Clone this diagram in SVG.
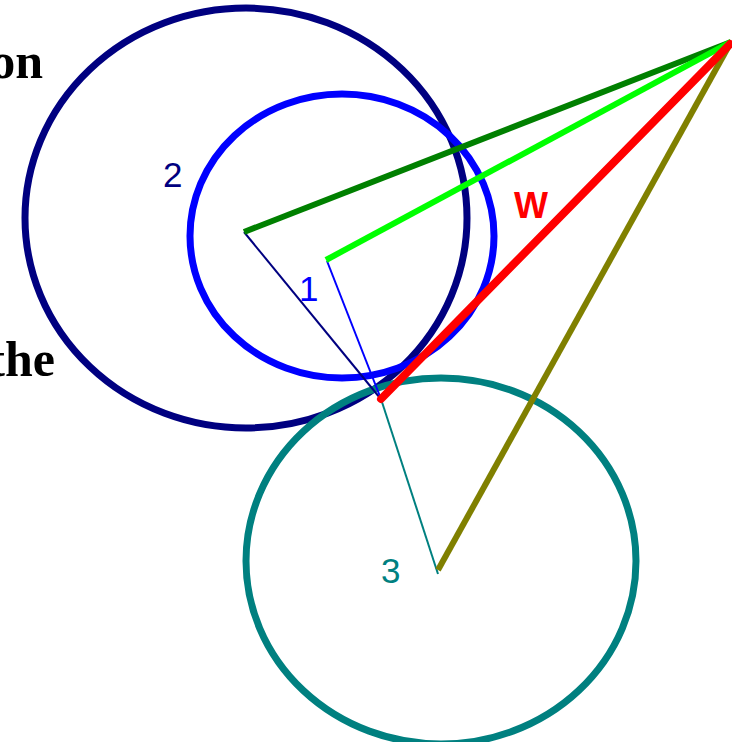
<svg xmlns="http://www.w3.org/2000/svg" width="732" height="742" viewBox="0 0 732 742">
  <style>
    .ring { fill: none; stroke-width: 7; }
    .thick { stroke-width: 6; stroke-linecap: butt; }
    .thin { stroke-width: 2; }
    .num { font-family: "Liberation Sans", Arial, sans-serif; font-size: 35px; }
    .word { font-family: "Liberation Serif", "Times New Roman", serif; font-weight: bold; font-size: 50px; fill: #000; }
  </style>
  <rect width="732" height="742" fill="#fff"/>
  <g id="text-fragments">
    <text class="word" x="43" y="78" text-anchor="end">on</text>
    <text class="word" x="55" y="376" text-anchor="end">the</text>
  </g>
  <g id="circle-2">
    <ellipse class="ring" cx="246" cy="218" rx="221" ry="210" stroke="#000080"/>
    <text class="num" x="163" y="187" fill="#000080">2</text>
  </g>
  <g id="circle-1">
    <ellipse class="ring" cx="342" cy="236" rx="152" ry="142" stroke="#0000ff"/>
    <text class="num" x="299" y="301" fill="#0000ff">1</text>
  </g>
  <g id="circle-3">
    <ellipse class="ring" cx="441" cy="561" rx="195" ry="183" stroke="#008080"/>
    <text class="num" x="381" y="583" fill="#008080">3</text>
  </g>
  <g id="connectors">
    <line class="thin" x1="244" y1="232" x2="380" y2="398" stroke="#000080"/>
    <line class="thin" x1="327" y1="261" x2="381" y2="399" stroke="#0000ff"/>
    <line class="thin" x1="381" y1="399" x2="438" y2="574" stroke="#008080"/>
    <line class="thick" x1="244" y1="232" x2="731" y2="42" stroke="#008000"/>
    <line class="thick" x1="326" y1="260" x2="731" y2="42" stroke="#00ff00"/>
    <line class="thick" x1="438" y1="570" x2="731" y2="42" stroke="#808000"/>
    <line x1="381" y1="399" x2="730" y2="44" stroke="#ff0000" stroke-width="8" stroke-linecap="round"/>
    <text x="514" y="218" fill="#ff0000" font-family="Liberation Sans, Arial, sans-serif" font-weight="bold" font-size="36">W</text>
  </g>
</svg>
